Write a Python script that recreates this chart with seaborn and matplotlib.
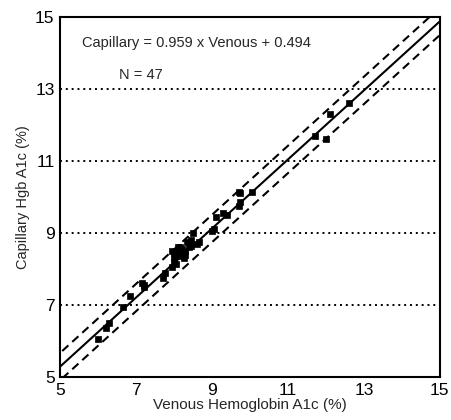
import matplotlib
matplotlib.use("Agg")
import matplotlib.pyplot as plt
import seaborn as sns
import numpy as np
import pandas as pd

venous = [6.0, 6.2, 6.3, 6.65, 6.85, 7.15, 7.2, 7.7, 7.75, 7.95,
          8.0, 7.95, 8.05, 8.1, 8.0, 8.15, 8.2, 8.3, 8.35, 8.4,
          8.45, 8.5, 8.6, 8.65, 8.3, 8.1, 8.25, 9.0, 9.05, 9.1,
          9.3, 9.4, 9.7, 9.75, 9.7, 9.75, 10.05, 11.7, 12.0, 12.1,
          12.6, 8.0, 8.2, 8.45, 7.2, 8.05, 8.15]
capillary = [6.05, 6.35, 6.5, 6.95, 7.25, 7.6, 7.55, 7.75, 7.9, 8.05,
             8.2, 8.5, 8.5, 8.35, 8.3, 8.45, 8.55, 8.5, 8.75, 8.6,
             8.8, 9.0, 8.7, 8.75, 8.4, 8.6, 8.3, 9.05, 9.1, 9.45,
             9.55, 9.5, 9.75, 9.85, 10.15, 10.1, 10.15, 11.7, 11.6, 12.3,
             12.6, 8.45, 8.4, 8.65, 7.5, 8.15, 8.6]

slope = 0.959
intercept = 0.494
band = 0.38

ticks = [5, 7, 9, 11, 13, 15]
grid_levels = [7, 9, 11, 13]
equation_text = "Capillary = 0.959 x Venous + 0.494"
n_text = "N = 47"
xlabel = "Venous Hemoglobin A1c (%)"
ylabel = "Capillary Hgb A1c (%)"

sns.set_style("white")
plt.rcParams['font.family'] = ['Liberation Sans', 'DejaVu Sans']

fig = plt.figure(figsize=(4.52, 4.2), dpi=100)
ax = fig.add_axes([0.133, 0.1024, 0.84, 0.857])

for g in grid_levels:
    ax.axhline(g, color='black', linestyle=(0, (1, 2)), linewidth=1.4, zorder=1)

xl = np.array([4.0, 16.0])
line_df = pd.DataFrame({"x": xl, "y": slope * xl + intercept})
sns.lineplot(data=line_df, x="x", y="y", ax=ax, color='black', linewidth=1.5, zorder=2)
for off in (band, -band):
    d = pd.DataFrame({"x": xl, "y": slope * xl + intercept + off})
    sns.lineplot(data=d, x="x", y="y", ax=ax, color='black', linewidth=1.5,
                 linestyle=(0, (4, 2.5)), zorder=2)

df = pd.DataFrame({"venous": venous, "capillary": capillary})
sns.scatterplot(data=df, x="venous", y="capillary", ax=ax, marker='s', s=20,
                color='black', edgecolor='black', linewidth=0.5, zorder=3)

ax.set_xlim(5, 15)
ax.set_ylim(5, 15)
ax.set_xticks(ticks)
ax.set_yticks(ticks)
ax.tick_params(axis='both', direction='inout', length=6, width=1.2,
               labelsize=12.5, colors='black', pad=1)
for s in ax.spines.values():
    s.set_visible(True)
    s.set_color('black')
    s.set_linewidth(1.5)

ax.text(5.58, 14.28, equation_text, fontsize=10.5, va='center', ha='left')
ax.text(6.55, 13.39, n_text, fontsize=10.5, va='center', ha='left')

ax.set_xlabel(xlabel, fontsize=11, labelpad=0)
ax.set_ylabel(ylabel, fontsize=10.5, labelpad=4)

fig.savefig("out.png", dpi=100)
